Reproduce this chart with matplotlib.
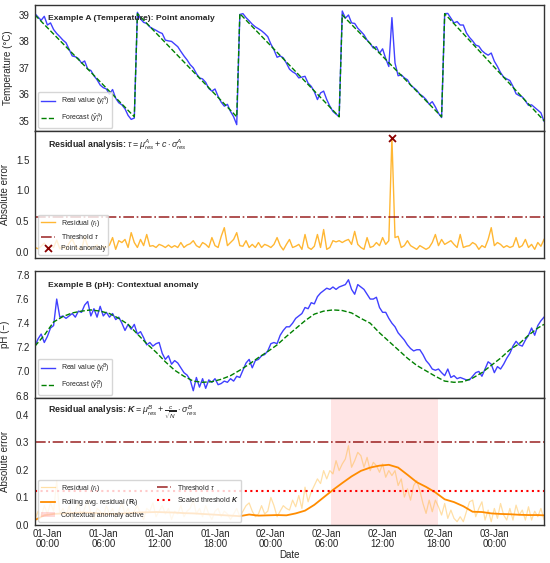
import numpy as np
import pandas as pd
import matplotlib
matplotlib.use('Agg')
import matplotlib.pyplot as plt
import matplotlib.dates as mdates
from matplotlib.patches import Patch

# ---------------- data ----------------
start_time = '2024-12-31 22:40'
n_points = 165
step = '20min'

temp_real = [
    39.05, 38.92, 38.80, 38.95, 38.62, 38.70, 38.45, 38.30, 38.18, 38.05,
    37.95, 37.70, 37.45, 37.42, 37.35, 37.18, 37.26, 36.95, 36.90, 36.70,
    36.55, 36.35, 36.25, 36.20, 36.00, 36.18, 35.85, 35.68, 35.60, 35.45,
    35.20, 35.05, 35.10,
    39.10, 38.85, 38.72, 38.68, 38.55, 38.48, 38.42, 38.35, 38.30, 38.05,
    38.02, 38.00, 37.90, 37.80, 37.62, 37.45, 37.30, 37.12, 37.00, 36.78,
    36.62, 36.58, 36.45, 36.22, 36.12, 36.20, 35.92, 35.70, 35.55, 35.62,
    35.35, 35.15, 34.85,
    39.02, 39.05, 38.90, 38.78, 38.65, 38.55, 38.48, 38.40, 38.30, 38.18,
    37.90, 37.68, 37.40, 37.45, 37.38, 37.18, 36.95, 36.85, 36.78, 36.62,
    36.65, 36.68, 36.42, 36.30, 36.10, 35.80, 36.05, 36.12, 35.80, 35.55,
    35.35, 35.25, 35.15,
    39.15, 38.88, 39.00, 38.70, 38.68, 38.50, 38.38, 38.25, 38.05, 37.92,
    37.75, 37.80, 37.55, 37.72, 37.35, 37.05, 38.90, 37.18, 36.70, 36.74,
    36.62, 36.55, 36.35, 36.25, 36.15, 36.00, 35.92, 35.80, 35.62, 35.72,
    35.52, 35.28, 35.12,
    39.05, 39.06, 38.88, 38.70, 38.75, 38.62, 38.62, 38.32, 38.15, 38.02,
    37.86, 37.82, 37.65, 37.55, 37.48, 37.56, 37.25, 37.05, 36.82, 36.65,
    36.58, 36.52, 36.30, 36.02, 35.95, 35.90, 35.75, 35.58, 35.60, 35.50,
    35.40, 35.30, 34.98,
]

temp_fc_times = ['2024-12-31 22:40', '2025-01-01 09:20', '2025-01-01 09:40',
                 '2025-01-01 20:20', '2025-01-01 20:40', '2025-01-02 07:20',
                 '2025-01-02 07:40', '2025-01-02 18:20', '2025-01-02 18:40',
                 '2025-01-03 05:20']
temp_fc_values = [39.0, 35.15, 39.05, 35.15, 39.05, 35.15, 39.0, 35.15, 39.05, 35.0]

res_A = [
    0.08, 0.06, 0.10, 0.15, 0.05, 0.12, 0.08, 0.20, 0.06, 0.10,
    0.05, 0.15, 0.22, 0.10, 0.06, 0.04, 0.25, 0.10, 0.05, 0.08,
    0.12, 0.05, 0.10, 0.08, 0.12, 0.24, 0.05, 0.19, 0.16, 0.21,
    0.08, 0.32, 0.16, 0.08, 0.21, 0.11, 0.29, 0.10, 0.11, 0.08,
    0.13, 0.11, 0.08, 0.12, 0.08, 0.11, 0.08, 0.16, 0.08, 0.12,
    0.14, 0.19, 0.11, 0.08, 0.16, 0.13, 0.08, 0.24, 0.11, 0.08,
    0.26, 0.40, 0.11, 0.16, 0.21, 0.32, 0.11, 0.10, 0.19, 0.08,
    0.13, 0.08, 0.16, 0.08, 0.13, 0.11, 0.08, 0.13, 0.24, 0.11,
    0.04, 0.13, 0.21, 0.08, 0.10, 0.13, 0.05, 0.29, 0.08, 0.05,
    0.10, 0.29, 0.08, 0.37, 0.05, 0.08, 0.19, 0.17, 0.19, 0.16,
    0.19, 0.21, 0.13, 0.34, 0.13, 0.08, 0.05, 0.24, 0.08, 0.10,
    0.16, 0.11, 0.24, 0.13, 0.19, 1.85, 0.24, 0.26, 0.08, 0.11,
    0.19, 0.11, 0.08, 0.05, 0.11, 0.08, 0.05, 0.08, 0.16, 0.29,
    0.11, 0.21, 0.13, 0.16, 0.19, 0.13, 0.08, 0.29, 0.08, 0.10,
    0.11, 0.16, 0.13, 0.05, 0.11, 0.08, 0.21, 0.40, 0.11, 0.16,
    0.13, 0.08, 0.11, 0.08, 0.10, 0.24, 0.08, 0.11, 0.21, 0.08,
    0.13, 0.05, 0.16, 0.10, 0.21,
]
tau_A = 0.58
point_anomaly_time = '2025-01-02 13:00'

ph_real = [
    7.21, 7.27, 7.31, 7.24, 7.29, 7.36, 7.38, 7.60, 7.45, 7.46,
    7.44, 7.46, 7.48, 7.45, 7.50, 7.49, 7.55, 7.58, 7.46, 7.52,
    7.45, 7.54, 7.46, 7.49, 7.45, 7.48, 7.43, 7.45, 7.40, 7.34,
    7.39, 7.35, 7.39, 7.31, 7.33, 7.28, 7.22, 7.24, 7.21, 7.23,
    7.24, 7.15, 7.10, 7.13, 7.06, 7.09, 7.07, 7.03, 6.99, 6.97,
    6.93, 6.84, 6.95, 6.87, 6.94, 6.86, 6.93, 6.91, 6.94, 6.89,
    6.90, 6.92, 6.91, 6.94, 6.92, 6.96, 6.95, 7.01, 7.07, 7.10,
    7.03, 7.09, 7.10, 7.13, 7.14, 7.17, 7.23, 7.24, 7.23, 7.30,
    7.34, 7.37, 7.37, 7.40, 7.44, 7.46, 7.48, 7.53, 7.52, 7.57,
    7.56, 7.62, 7.65, 7.67, 7.69, 7.68, 7.70, 7.68, 7.70, 7.71,
    7.72, 7.76, 7.68, 7.64, 7.72, 7.70, 7.68, 7.64, 7.60, 7.60,
    7.615, 7.53, 7.49, 7.49, 7.44, 7.40, 7.37, 7.32, 7.29, 7.26,
    7.22, 7.19, 7.17, 7.18, 7.18, 7.14, 7.09, 7.06, 7.02, 7.01,
    7.02, 6.99, 6.965, 7.02, 6.95, 6.965, 6.94, 6.95, 6.94, 6.93,
    6.93, 6.96, 6.99, 7.00, 6.96, 7.02, 7.08, 7.06, 6.99, 7.04,
    7.02, 7.06, 7.11, 7.15, 7.21, 7.25, 7.22, 7.21, 7.26, 7.30,
    7.36, 7.30, 7.38, 7.42, 7.45,
]

ph_fc_values = [
    7.21, 7.30, 7.41, 7.455, 7.485, 7.50, 7.51, 7.50, 7.48, 7.44,
    7.39, 7.31, 7.23, 7.16, 7.08, 7.01, 6.96, 6.92, 6.91, 6.915,
    6.935, 6.965, 7.01, 7.06, 7.115, 7.165, 7.22, 7.29, 7.355, 7.42,
    7.475, 7.50, 7.51, 7.505, 7.485, 7.44, 7.40, 7.32, 7.25, 7.18,
    7.11, 7.05, 7.005, 6.96, 6.92, 6.91, 6.915, 6.945, 6.99, 7.05,
    7.11, 7.18, 7.23, 7.30, 7.36, 7.39,
]

res_B = [
    0.02, 0.05, 0.03, 0.07, 0.04, 0.08, 0.05, 0.16, 0.04, 0.06,
    0.03, 0.07, 0.02, 0.05, 0.08, 0.03, 0.06, 0.09, 0.04, 0.02,
    0.06, 0.05, 0.03, 0.07, 0.04, 0.06, 0.02, 0.05, 0.08, 0.04,
    0.06, 0.03, 0.05, 0.07, 0.04, 0.02, 0.06, 0.05, 0.08, 0.03,
    0.05, 0.07, 0.04, 0.06, 0.02, 0.05, 0.04, 0.07, 0.03, 0.05,
    0.06, 0.09, 0.04, 0.06, 0.03, 0.07, 0.04, 0.02, 0.05, 0.06,
    0.03, 0.05, 0.04, 0.02, 0.04, 0.06, 0.03, 0.05, 0.07, 0.08,
    0.05, 0.03, 0.04, 0.07, 0.04, 0.05, 0.10, 0.07, 0.03, 0.05,
    0.07, 0.06, 0.054, 0.09, 0.066, 0.107, 0.06, 0.137, 0.084, 0.12,
    0.143, 0.167, 0.15, 0.197, 0.167, 0.197, 0.185, 0.233, 0.197, 0.221,
    0.239, 0.287, 0.209, 0.233, 0.263, 0.251, 0.209, 0.245, 0.197, 0.227,
    0.215, 0.191, 0.221, 0.173, 0.197, 0.179, 0.197, 0.143, 0.167, 0.101,
    0.131, 0.09, 0.143, 0.161, 0.125, 0.078, 0.042, 0.09, 0.048, 0.09,
    0.066, 0.036, 0.078, 0.024, 0.054, 0.024, 0.012, 0.03, 0.012, 0.048,
    0.084, 0.09, 0.03, 0.06, 0.084, 0.018, 0.054, 0.012, 0.06, 0.024,
    0.078, 0.036, 0.018, 0.06, 0.018, 0.072, 0.036, 0.054, 0.018, 0.066,
    0.018, 0.05, 0.03, 0.06, 0.02,
]

roll_B_values = [
    0.018, 0.035, 0.040, 0.042, 0.043, 0.045, 0.044, 0.042, 0.040, 0.041,
    0.043, 0.045, 0.046, 0.047, 0.046, 0.045, 0.043, 0.042, 0.040, 0.038,
    0.036, 0.034, 0.032, 0.038, 0.034, 0.035, 0.036, 0.035, 0.042, 0.052,
    0.073, 0.100, 0.127, 0.152, 0.176, 0.196, 0.208, 0.215, 0.218, 0.208,
    0.182, 0.155, 0.138, 0.118, 0.093, 0.083, 0.068, 0.048, 0.047, 0.042,
    0.040, 0.039, 0.037, 0.036, 0.036, 0.035,
]
tau_B = 0.30
K_B = 0.122
context_start = '2025-01-02 06:30'
context_end = '2025-01-02 17:55'

# ---------------- style ----------------
plt.rcParams.update({
    'font.family': ['Liberation Sans', 'DejaVu Sans'],
    'mathtext.fontset': 'custom',
    'mathtext.rm': 'Liberation Sans',
    'mathtext.it': 'Liberation Sans:italic',
    'mathtext.bf': 'Liberation Sans:bold',
    'mathtext.sf': 'Liberation Sans',
    'axes.edgecolor': '#333333',
    'axes.linewidth': 1.0,
    'text.color': '#262626',
    'axes.labelcolor': '#262626',
    'xtick.color': '#262626',
    'ytick.color': '#262626',
    'xtick.major.size': 0,
    'ytick.major.size': 0,
    'xtick.major.pad': 4,
    'ytick.major.pad': 4,
    'xtick.labelsize': 7,
    'ytick.labelsize': 7,
    'axes.labelsize': 7,
    'legend.fontsize': 5.0,
})
try:
    plt.rcParams['mathtext.bfit'] = 'Liberation Sans:bold:italic'
    from matplotlib.mathtext import MathTextParser
    MathTextParser('agg').parse(r'$\boldsymbol{K}$', dpi=100)
    Ksym = r'\boldsymbol{K}'
except Exception:
    Ksym = r'\mathbf{K}'

t = pd.date_range(start_time, periods=n_points, freq=step)
t_fcA = pd.to_datetime(temp_fc_times)
t_hourly = list(pd.date_range(start_time, periods=len(ph_fc_values) - 1, freq='h')) + [t[-1]]

fig = plt.figure(figsize=(5.5, 5.63), dpi=100)
L, W = 0.0636, 0.9255
ax1 = fig.add_axes([L, 0.7673, W, 0.2244])
ax2 = fig.add_axes([L, 0.5417, W, 0.2256])
ax3 = fig.add_axes([L, 0.2931, W, 0.2250])
ax4 = fig.add_axes([L, 0.0675, W, 0.2256])

title_fs = 6.1
blue = 'blue'
# Panel 1
ax1.plot(t, temp_real, color=blue, alpha=0.75, lw=1.0, label=r'Real value ($y_t^A$)')
ax1.plot(t_fcA, temp_fc_values, color='green', ls='--', lw=1.0, label=r'Forecast ($\hat{y}_t^A$)')
ax1.set_ylim(34.61, 39.39)
ax1.set_yticks([35, 36, 37, 38, 39])
ax1.set_ylabel('Temperature (°C)')
ax1.text(0.026, 0.89, 'Example A (Temperature): Point anomaly', transform=ax1.transAxes,
         fontsize=title_fs, fontweight='bold', va='center', ha='left')
ax1.legend(loc='lower left')

# Panel 2
ax2.plot(t, res_A, color='orange', alpha=0.8, lw=1.0, label=r'Residual ($r_t$)')
ax2.axhline(tau_A, color='darkred', ls='-.', lw=1.2, alpha=0.8, label=r'Threshold $\tau$')
ia = t.get_loc(pd.Timestamp(point_anomaly_time))
ax2.scatter([t[ia]], [res_A[ia]], marker='x', color='darkred', s=25, lw=1.3, zorder=5,
            label='Point anomaly')
ax2.set_ylim(-0.09, 1.96)
ax2.set_yticks([0.0, 0.5, 1.0, 1.5])
ax2.set_ylabel('Absolute error')
ax2.text(0.026, 0.89, r'Residual analysis: $\tau = \mu^{A}_{res} + c \cdot \sigma^{A}_{res}$',
         transform=ax2.transAxes, fontsize=6.4, fontweight='bold', va='center', ha='left')
ax2.legend(loc='lower left')

# Panel 3
ax3.plot(t, ph_real, color=blue, alpha=0.75, lw=1.0, label=r'Real value ($y_t^B$)')
ax3.plot(t_hourly, ph_fc_values, color='green', ls='--', lw=1.0, label=r'Forecast ($\hat{y}_t^B$)')
ax3.set_ylim(6.78, 7.83)
ax3.set_yticks([6.8, 7.0, 7.2, 7.4, 7.6, 7.8])
ax3.set_ylabel('pH (\u2212)')
ax3.text(0.026, 0.89, 'Example B (pH): Contextual anomaly', transform=ax3.transAxes,
         fontsize=title_fs, fontweight='bold', va='center', ha='left')
ax3.legend(loc='lower left')

# Panel 4
ax4.axvspan(pd.Timestamp(context_start), pd.Timestamp(context_end), color='red', alpha=0.1, lw=0)
h_r, = ax4.plot(t, res_B, color='orange', alpha=0.35, lw=0.9, label=r'Residual ($r_t$)')
h_R, = ax4.plot(t_hourly, roll_B_values, color='darkorange', lw=1.3,
                label=r'Rolling avg. residual ($\mathbf{R}_t$)')
h_tau = ax4.axhline(tau_B, color='darkred', ls='-.', lw=1.2, alpha=0.8, label=r'Threshold $\tau$')
h_K = ax4.axhline(K_B, color='red', ls=':', lw=1.5, label=r'Scaled threshold $' + Ksym + '$')
h_p = Patch(facecolor='red', alpha=0.15, label='Contextual anomaly active')
ax4.set_ylim(0.0, 0.46)
ax4.set_yticks([0.0, 0.1, 0.2, 0.3, 0.4])
ax4.set_ylabel('Absolute error')
ax4.text(0.026, 0.89,
         r'Residual analysis: $' + Ksym + r' = \mu^{B}_{res} + \frac{c}{\sqrt{N}} \cdot \sigma^{B}_{res}$',
         transform=ax4.transAxes, fontsize=6.4, fontweight='bold', va='center', ha='left')
ax4.legend(handles=[h_r, h_R, h_p, h_tau, h_K], loc='lower left', ncol=2)
ax4.set_xlabel('Date', labelpad=1)

for ax in (ax1, ax2, ax3, ax4):
    ax.set_xlim(t[0], t[-1])
    ax.xaxis.set_major_locator(mdates.HourLocator(byhour=[0, 6, 12, 18]))
    ax.xaxis.set_major_formatter(mdates.DateFormatter('%d-%b\n%H:%M'))
for ax in (ax1, ax2, ax3):
    ax.tick_params(labelbottom=False)
ax4.tick_params(axis='x', pad=3)
fig.canvas.draw()
for lab in ax4.get_xticklabels():
    lab.set_linespacing(0.95)

fig.savefig('out.png', dpi=100)
